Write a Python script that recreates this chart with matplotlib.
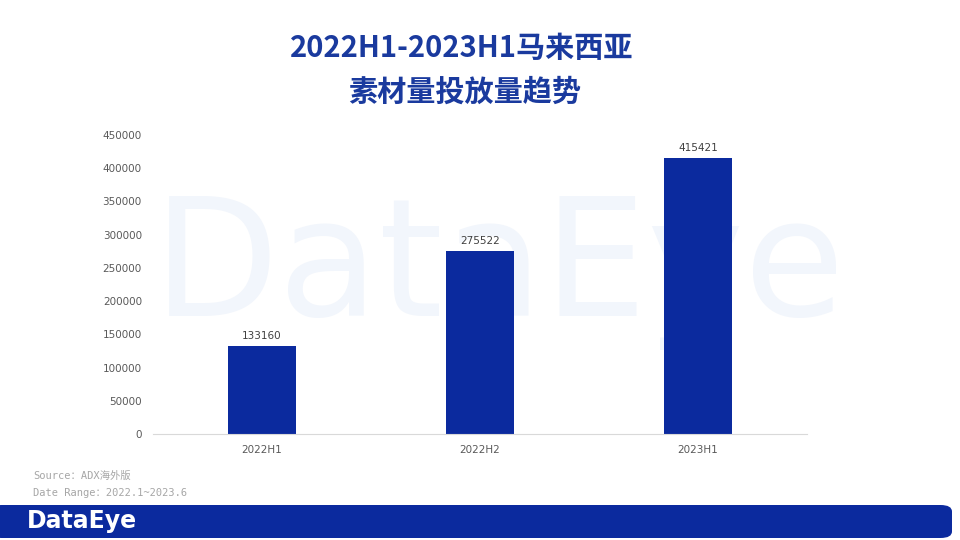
import matplotlib
matplotlib.use('Agg')
import matplotlib.pyplot as plt
from matplotlib.patches import FancyBboxPatch

plt.rcParams['font.family'] = ['Noto Sans CJK SC', 'DejaVu Sans']

periods = ['2022H1', '2022H2', '2023H1']
volumes = [133160, 275522, 415421]
yticks = [0, 50000, 100000, 150000, 200000, 250000, 300000, 350000, 400000, 450000]

blue = '#0b2a9e'
fig = plt.figure(figsize=(9.6, 5.4), dpi=100)

# faint watermark behind the chart
fig.text(0.52, 0.50, 'DataEye', fontsize=118, color='#f2f6fc', ha='center', va='center',
         family=['DejaVu Sans'], zorder=-5)

ax = fig.add_axes([153 / 960, 106 / 540, 654 / 960, 299 / 540])
ax.set_facecolor('none')
ax.set_zorder(2)
x = range(len(periods))
ax.bar(x, volumes, width=0.31, color=blue, zorder=2)
for i, v in enumerate(volumes):
    ax.text(i, v + 7000, str(v), ha='center', va='bottom', fontsize=7.5, color='#404040',
            family=['DejaVu Sans'])
ax.set_xlim(-0.5, 2.5)
ax.set_ylim(0, 450000)
ax.set_yticks(yticks)
ax.set_yticklabels([str(t) for t in yticks], fontsize=7.5, color='#595959', family=['DejaVu Sans'])
ax.set_xticks(list(x))
ax.set_xticklabels(periods, fontsize=7.5, color='#595959', family=['DejaVu Sans'])
ax.tick_params(length=0, pad=8)
for s in ['top', 'right', 'left']:
    ax.spines[s].set_visible(False)
ax.spines['bottom'].set_color('#d9d9d9')

fig.text(0.481, 1 - 48 / 540, '2022H1-2023H1马来西亚', fontsize=21, fontweight='bold',
         color='#1a3a9e', ha='center', va='center')
fig.text(0.484, 1 - 92 / 540, '素材量投放量趋势', fontsize=21, fontweight='bold',
         color='#1a3a9e', ha='center', va='center')

mono = ['DejaVu Sans Mono', 'Noto Sans CJK SC']
fig.text(33 / 960, 1 - 476 / 540, 'Source：ADX海外版', fontsize=7.5, color='#a6a6a6',
         va='center', family=mono)
fig.text(33 / 960, 1 - 493 / 540, 'Date Range：2022.1~2023.6', fontsize=7.5, color='#a6a6a6',
         va='center', family=mono)

footer = FancyBboxPatch((-10 / 960, 2 / 540), 962 / 960, 33 / 540,
                        boxstyle='round,pad=0,rounding_size=0.012', transform=fig.transFigure,
                        facecolor=blue, edgecolor='none')
fig.patches.append(footer)
fig.text(27 / 960, 1 - 521 / 540, 'DataEye', fontsize=17, fontweight='bold', color='white',
         va='center', family=['DejaVu Sans'])

fig.savefig('out.png', dpi=100)
